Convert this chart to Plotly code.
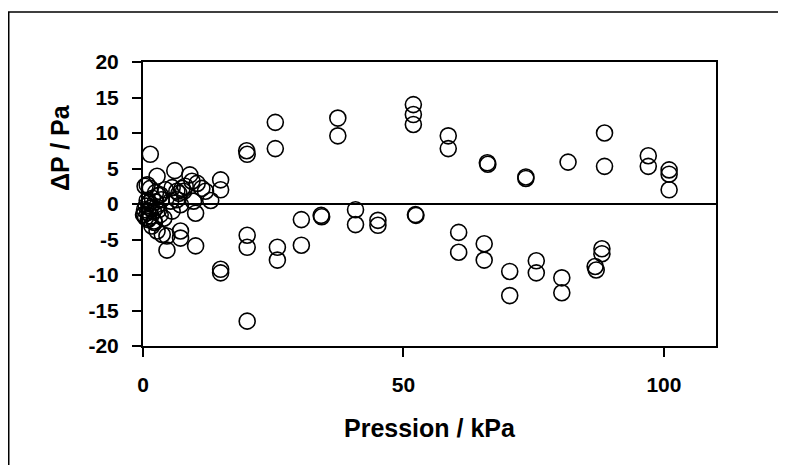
import plotly.graph_objects as go

# Pression / kPa
pression = [
    1.4, 2.7, 6.1, 9.0, 9.4, 10.4, 12.0, 13.0, 14.9, 14.9,
    0.8, 0.4, 1.4, 3.3, 4.3, 6.9, 7.5, 8.1, 6.5, 7.2, 10.1,
    0.1, 1.1, 2.1, 1.7, 2.7, 3.7, 4.6, 4.6, 7.2, 7.2, 10.1, 14.9, 14.9,
    0.2, 0.3, 0.5, 0.6, 0.8, 0.9, 1.0, 1.2, 1.4, 1.5, 1.8, 2.0, 2.2, 2.4, 2.6, 3.0,
    3.3, 3.5, 5.3, 4.0, 3.0, 5.6, 6.5, 7.8, 11.3, 9.7, 2.4, 5.6,
    19.9, 20.0, 25.4, 25.4, 37.4, 37.4, 51.9, 51.9, 51.9, 58.6, 58.6,
    20.0, 20.0, 25.8, 25.8, 30.4, 30.4, 34.2, 34.3, 40.8, 40.8, 45.1, 45.1,
    52.3, 52.4, 60.6, 60.6, 20.0,
    66.1, 66.2, 73.5, 73.5, 81.6, 88.6, 88.6, 97.0, 97.0, 101.0, 101.0, 101.0,
    65.5, 65.5, 70.4, 70.4, 75.5, 75.5, 80.4, 80.4, 88.1, 88.1, 86.8, 87.0,
]

# ΔP / Pa
delta_p = [
    7.0, 3.9, 4.7, 4.1, 3.2, 2.9, 1.8, 0.5, 3.4, 2.0,
    2.7, 2.5, 2.2, 1.3, 2.0, 1.5, 2.2, 2.5, 0.6, -0.1, -1.3,
    -1.5, -2.0, -2.4, -3.1, -3.8, -4.3, -4.5, -6.5, -3.8, -4.8, -5.9, -9.2, -9.7,
    -1.5, -0.8, -1.9, -0.3, 0.5, -1.2, -2.2, 0.2, -0.6, -1.7, 0.8, -1.0, -2.6, 0.3, -0.4, 1.2,
    -1.5, 0.6, 0.4, -2.0, -0.8, -1.0, 1.8, 1.8, 2.2, 0.4, 1.6, 2.3,
    7.5, 7.0, 11.5, 7.8, 12.1, 9.6, 14.0, 12.6, 11.2, 9.6, 7.8,
    -4.4, -6.1, -6.1, -7.9, -2.2, -5.8, -1.6, -1.8, -0.8, -2.9, -2.3, -3.0,
    -1.5, -1.6, -4.0, -6.8, -16.5,
    5.8, 5.6, 3.8, 3.6, 5.9, 10.0, 5.3, 6.8, 5.3, 4.8, 4.2, 2.0,
    -5.6, -7.9, -9.5, -12.9, -8.0, -9.7, -10.4, -12.5, -6.3, -7.0, -8.8, -9.3,
]

x_ticks = [0, 50, 100]
y_ticks = [-20, -15, -10, -5, 0, 5, 10, 15, 20]

FONT = "Liberation Sans, Arial, sans-serif"

fig = go.Figure()
fig.add_trace(go.Scatter(
    x=pression, y=delta_p, mode="markers",
    marker=dict(symbol="circle-open", size=16, color="black", line=dict(width=1.6)),
    showlegend=False, cliponaxis=False,
))

W, H = 786, 465
L, T = 135, 54
pw, ph = 573, 284
R, B = W - L - pw, H - T - ph
bottom = T + ph

fig.update_layout(
    width=W, height=H,
    margin=dict(l=L, r=R, t=T, b=B, pad=0),
    paper_bgcolor="white", plot_bgcolor="white",
    font=dict(family=FONT, color="black"),
    xaxis=dict(
        range=[0, 110], tickvals=x_ticks, ticktext=[str(v) for v in x_ticks],
        showgrid=False, zeroline=False,
        showline=True, linecolor="black", linewidth=2, mirror=True,
        ticks="outside", ticklen=9, tickwidth=1.5, tickcolor="black",
        tickfont=dict(family=FONT, size=21, color="black", weight="bold"),
        ticklabelstandoff=10,
    ),
    yaxis=dict(
        range=[-20, 20], tickvals=y_ticks, ticktext=[str(v) for v in y_ticks],
        showgrid=False, zeroline=True, zerolinecolor="black", zerolinewidth=1.5,
        showline=True, linecolor="black", linewidth=2, mirror=True,
        ticks="outside", ticklen=9, tickwidth=1.5, tickcolor="black",
        tickfont=dict(family=FONT, size=21, color="black", weight="bold"),
        ticklabelstandoff=9,
    ),
    annotations=[
        dict(text="Pression / kPa", xref="paper", yref="paper",
             x=0.5, y=-(420 - bottom) / ph, xanchor="center", yanchor="middle",
             showarrow=False, font=dict(family=FONT, size=25, color="black", weight="bold")),
        dict(text="ΔP / Pa", xref="paper", yref="paper",
             x=(52 - L) / pw, y=1 - (140 - T) / ph, xanchor="center", yanchor="middle",
             textangle=-90,
             showarrow=False, font=dict(family=FONT, size=25, color="black", weight="bold")),
    ],
    shapes=[
        dict(type="rect", xref="paper", yref="paper",
             x0=(0.75 - L) / pw, x1=(800 - L) / pw,
             y0=-(480 - bottom) / ph, y1=1 + (T - 4) / ph,
             line=dict(color="black", width=1.5), fillcolor="rgba(0,0,0,0)", layer="below"),
    ],
)

fig.write_html("out.html")
